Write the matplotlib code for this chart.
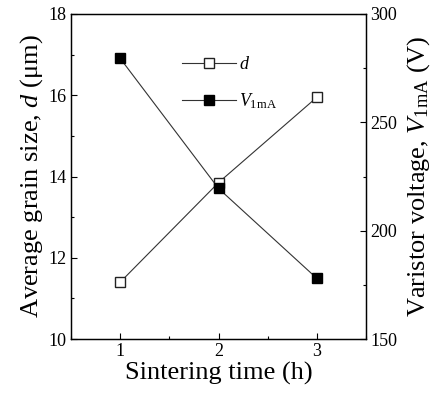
import matplotlib
matplotlib.use("Agg")
import matplotlib.pyplot as plt
from matplotlib.ticker import MultipleLocator

# data
time_h = [1, 2, 3]
grain_d = [11.40, 13.85, 15.95]
v_1ma = [279.5, 219.5, 178.0]

plt.rcParams['font.family'] = ['Liberation Serif', 'DejaVu Serif']
plt.rcParams['mathtext.fontset'] = 'custom'
plt.rcParams['mathtext.rm'] = 'Liberation Serif'
plt.rcParams['mathtext.it'] = 'Liberation Serif:italic'

fig = plt.figure(figsize=(4.41, 3.98), dpi=100)
ax = fig.add_axes([0.161, 0.148, 0.669, 0.817])
ax2 = ax.twinx()

l1, = ax.plot(time_h, grain_d, color='#333333', lw=0.8, marker='s', ms=7.5,
              mfc='white', mec='#222222', mew=1.0, label=r'$\mathit{d}$')
l2, = ax2.plot(time_h, v_1ma, color='#333333', lw=0.8, marker='s', ms=7.5,
               mfc='black', mec='black', label=r'$\mathit{V}_{\rm 1mA}$')

ax.set_xlim(0.5, 3.5)
ax.set_ylim(10, 18)
ax2.set_ylim(150, 300)
ax.set_xticks([1, 2, 3])
ax.set_yticks([10, 12, 14, 16, 18])
ax2.set_yticks([150, 200, 250, 300])
ax.xaxis.set_minor_locator(MultipleLocator(0.5))
ax.yaxis.set_minor_locator(MultipleLocator(1))
ax2.yaxis.set_minor_locator(MultipleLocator(25))

for a in (ax, ax2):
    a.tick_params(which='both', direction='in', labelsize=13, width=0.8)
    a.tick_params(which='major', length=4, pad=3)
    a.tick_params(which='minor', length=2)
    for s in a.spines.values():
        s.set_linewidth(0.9)

ax.set_xlabel('Sintering time (h)', fontsize=19, labelpad=1)
ax.set_ylabel(r'Average grain size, $\mathit{d}$ ($\mathrm{\mu}$m)', fontsize=19, labelpad=3)
ax2.set_ylabel(r'Varistor voltage, $\mathit{V}_{\rm 1mA}$ (V)', fontsize=19, labelpad=6)

ax.legend([l1, l2], [l1.get_label(), l2.get_label()], loc='upper left',
          bbox_to_anchor=(0.32, 0.92), frameon=False, fontsize=13,
          handlelength=3.0, labelspacing=1.0, handletextpad=0.2)

fig.savefig('out.png', dpi=100)
